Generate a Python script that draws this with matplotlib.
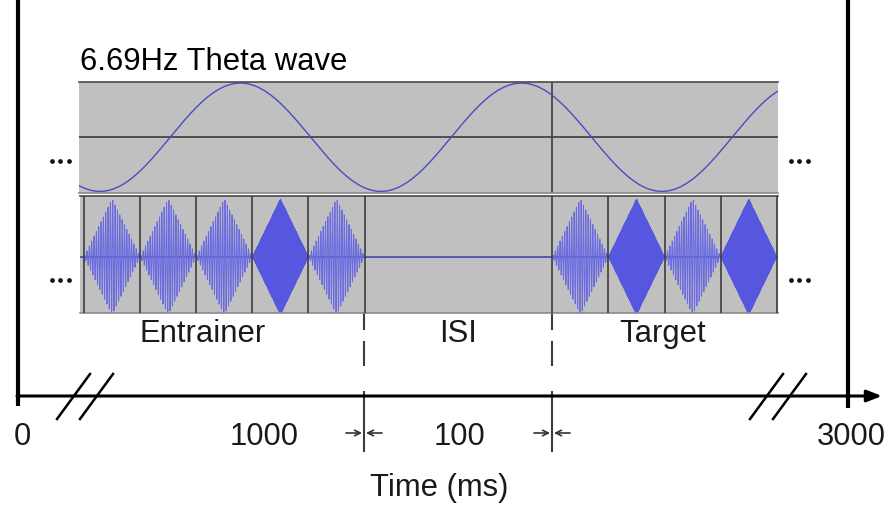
import numpy as np
import matplotlib
matplotlib.use("Agg")
from matplotlib import pyplot as plt

plt.rcParams['font.family'] = ['Liberation Sans', 'DejaVu Sans']

# stimulus parameters (ms)
theta_hz = 6.69
theta_phase_ms = 9.0
n_per_cycle = 5
isi_ms = 100
entrainer_tones = ['std', 'std', 'std', 'dev', 'std']
target_tones = ['std', 'dev', 'std', 'dev']
carrier_cpms = {'std': 0.8, 'dev': 2.2}   # carrier cycles per ms
tone_color = {'std': '#6a6ae2', 'dev': '#5656de'}

segment_names = ['Entrainer', 'ISI', 'Target']
tick_labels = ['0', '1000', '100', '3000']
title = '6.69Hz Theta wave'
xlabel = 'Time (ms)'

# layout (figure pixels)
W, H = 889, 506
px_per_ms = 1.88
onset_px = 83
panel_left, panel_right = 79, 778

pulse_ms = 1000.0 / theta_hz / n_per_cycle
entr_end = len(entrainer_tones) * pulse_ms
targ_start = entr_end + isi_ms
onsets = [i * pulse_ms for i in range(len(entrainer_tones))] + \
         [targ_start + i * pulse_ms for i in range(len(target_tones))]
tones = entrainer_tones + target_tones


def to_px(t):
    return onset_px + t * px_per_ms


def box(x0, y0, x1, y1):
    return [x0 / W, 1 - y1 / H, (x1 - x0) / W, (y1 - y0) / H]


fig = plt.figure(figsize=(W / 100, H / 100), dpi=100)
ax = fig.add_axes([0, 0, 1, 1])
ax.set_xlim(0, W)
ax.set_ylim(H, 0)
ax.axis('off')

tlim = ((panel_left - onset_px) / px_per_ms, (panel_right - onset_px) / px_per_ms)
gray = '#c0c0c0'
grid = '#3c3c3c'
blue = '#4b4bc4'

# theta panel
ax_top = fig.add_axes(box(panel_left, 83, panel_right, 194))
t = np.linspace(tlim[0] - 2, tlim[1] + 2, 3000)
theta = -np.cos(2 * np.pi * theta_hz / 1000 * (t - theta_phase_ms))
ax_top.set_facecolor(gray)
ax_top.axhline(0, color=grid, lw=1.2)
ax_top.axvline(targ_start, color=grid, lw=1.2)
ax_top.plot(t, theta, color=blue, lw=1.0)
ax_top.set_xlim(*tlim)
ax_top.set_ylim(-1.03, 1.02)

# pulse panel
ax_bot = fig.add_axes(box(panel_left + 1, 197, panel_right, 314))
ax_bot.set_facecolor(gray)
ax_bot.axhline(0, color=grid, lw=1.2, zorder=1)
ts = np.linspace(tlim[0], tlim[1], 60000)
ax_bot.plot(ts, np.zeros_like(ts), color='#5a5ae0', lw=1.0, zorder=2)
for on, kind in zip(onsets, tones):
    tp = ts[(ts >= on) & (ts <= on + pulse_ms)]
    env = 1 - np.abs(2 * (tp - on) / pulse_ms - 1)
    wave = env * np.sin(2 * np.pi * carrier_cpms[kind] * (tp - on))
    ax_bot.plot(tp, wave, color=tone_color[kind], lw=0.7, zorder=2)
for on in onsets + [entr_end, onsets[-1] + pulse_ms]:
    ax_bot.axvline(on, color=grid, lw=1.2, zorder=3)
ax_bot.set_xlim(*tlim)
ax_bot.set_ylim(-0.97, 1.05)

for a in (ax_top, ax_bot):
    a.set_xticks([])
    a.set_yticks([])
    for side in ('left', 'right'):
        a.spines[side].set_visible(False)
ax_top.spines['top'].set_color('#4a4a4a')
ax_top.spines['bottom'].set_color('#8a8a8a')
ax_bot.spines['top'].set_color('#4a4a4a')
ax_bot.spines['bottom'].set_color('#8a8a8a')
for a in (ax_top, ax_bot):
    for side in ('top', 'bottom'):
        a.spines[side].set_linewidth(1.2)

ax.text(panel_left + 1, 62, title, fontsize=22.3, va='center', ha='left')

# continuation dots
for y in (162, 281):
    ax.plot([52, 60, 69], [y] * 3, 'o', color='#111111', ms=2.4)
    ax.plot([791, 799, 808], [y] * 3, 'o', color='#111111', ms=2.4)

# time axis frame
ax.plot([18, 18], [0, 407], color='black', lw=3, solid_capstyle='butt')
ax.plot([848, 848], [0, 409], color='black', lw=3, solid_capstyle='butt')
ax.annotate('', xy=(882, 397), xytext=(17, 397),
            arrowprops=dict(arrowstyle='-|>,head_length=0.9,head_width=0.35',
                            lw=2.2, color='black', shrinkA=0, shrinkB=0))

# axis breaks
for x0 in (57, 80, 750, 773):
    ax.plot([x0, x0 + 33], [420, 375], color='black', lw=1.8)

# segment boundaries
for xb in (to_px(entr_end), to_px(targ_start)):
    ax.plot([xb, xb], [314, 330], color=grid, lw=1.5)
    ax.plot([xb, xb], [342, 397], color=grid, lw=1.5, dashes=(12, 12))
    ax.plot([xb, xb], [397, 452], color=grid, lw=1.5)
    for s, e in ((xb - 18, xb - 2), (xb + 18, xb + 2)):
        ax.annotate('', xy=(e, 434), xytext=(s, 434),
                    arrowprops=dict(arrowstyle='->,head_length=0.4,head_width=0.2',
                                    lw=1.2, color='#333333', shrinkA=0, shrinkB=0))

for x, name in zip([203, 458, 663], segment_names):
    ax.text(x, 334, name, fontsize=22.3, ha='center', va='center', color='#1a1a1a')

for x, lab in zip([22, 264, 459, 851], tick_labels):
    ax.text(x, 437, lab, fontsize=22.3, ha='center', va='center', color='#1a1a1a')
ax.text(439, 488, xlabel, fontsize=22.3, ha='center', va='center', color='#1a1a1a')

fig.savefig('out.png', dpi=100)
